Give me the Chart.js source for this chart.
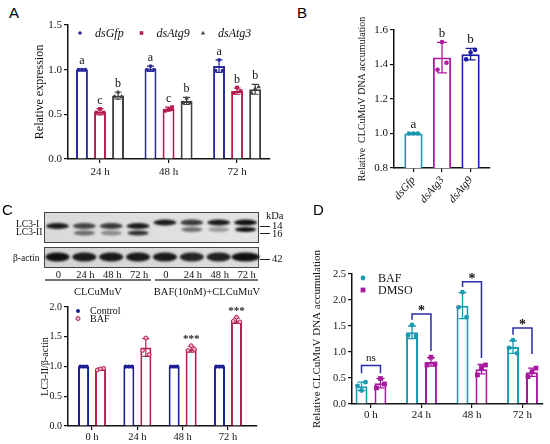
<!DOCTYPE html>
<html><head><meta charset="utf-8">
<script src="https://cdn.jsdelivr.net/npm/chart.js@4.4.1/dist/chart.umd.min.js"></script>
<style>
html,body{margin:0;padding:0;background:#fff;}
#fig{position:relative;width:550px;height:444px;overflow:hidden;background:#fff;}
canvas{position:absolute;}
.t{position:absolute;font-family:"Liberation Serif","Times New Roman",serif;color:#111;white-space:nowrap;line-height:1;}
.p{position:absolute;font-family:"Liberation Sans",Arial,sans-serif;font-size:15px;color:#000;line-height:1;}
</style></head><body>
<div id="fig">
<canvas id="blot" width="300" height="100" style="left:0;top:200px"></canvas>
<canvas id="cA" width="262" height="177" style="left:20px;top:8px"></canvas>
<canvas id="cB" width="160" height="208" style="left:340px;top:12px"></canvas>
<canvas id="cC" width="232" height="152" style="left:30px;top:292px"></canvas>
<canvas id="cD" width="250" height="208" style="left:300px;top:236px"></canvas>
<div class="p" style="left:9px;top:5px">A</div>
<div class="p" style="left:297px;top:5px">B</div>
<div class="p" style="left:2px;top:202px">C</div>
<div class="p" style="left:313px;top:202px">D</div>
</div>
<script>
const SERIF="'Liberation Serif','Times New Roman',Times,serif";
Chart.defaults.font.family=SERIF;
Chart.defaults.color='#111';
Chart.defaults.animation=false;
Chart.defaults.plugins.legend.display=false;
Chart.defaults.plugins.tooltip.enabled=false;

// ---------- Panel A data
const groupsA=['24 h','48 h','72 h'];
const gfpA=[1.00,1.01,1.04];
const gfpErrA=[0.01,0.03,0.07];
const gfpPtsA=[[1.00,1.00,1.00],[1.00,1.04,1.00],[0.99,1.11,0.99]];
const gfpLetA=['a','a','a'];
const atg9A=[0.53,0.56,0.76];
const atg9ErrA=[0.035,0.02,0.035];
const atg9PtsA=[[0.52,0.56,0.52],[0.54,0.55,0.58],[0.74,0.80,0.76]];
const atg9LetA=['c','c','b'];
const atg3A=[0.71,0.65,0.78];
const atg3ErrA=[0.04,0.04,0.055];
const atg3PtsA=[[0.70,0.75,0.70],[0.63,0.68,0.63],[0.74,0.79,0.81]];
const atg3LetA=['b','b','b'];
const yTicksA=[0,0.5,1.0,1.5];

// ---------- Panel B data
const catsB=['dsGfp','dsAtg3','dsAtg9'];
const valsB=[1.00,1.44,1.46];
const errB=[0.004,0.088,0.033];
const ptsB=[[1.0,1.0,1.0],[1.37,1.53,1.41],[1.43,1.47,1.485]];
const letB=['a','b','b'];

// ---------- Panel C blot (relative band intensities)
const laneLabels=['0','24 h','48 h','72 h','0','24 h','48 h','72 h'];
const lc3IBand=[0.95,0.75,0.8,0.95,0.95,0.8,0.95,1.0];
const lc3IIBand=[0,0.55,0.4,0.85,0,0.55,0.35,1.0];
const actinBand=[1,0.95,0.95,0.95,0.95,0.9,0.92,1.0];
const blotGroups=['CLCuMuV','BAF(10nM)+CLCuMuV'];

// ---------- Panel C chart data
const groupsC=['0 h','24 h','48 h','72 h'];
const ctrlC=[1.0,1.0,1.0,1.0];
const ctrlErrC=[0.01,0.01,0.01,0.01];
const ctrlPtsC=[[1.0,1.0,1.0],[1.0,1.0,1.0],[1.0,1.0,1.0],[1.0,1.0,1.0]];
const bafC=[0.96,1.32,1.29,1.77];
const bafErrC=[0.015,0.15,0.05,0.045];
const bafPtsC=[[0.94,0.96,0.97],[1.27,1.48,1.20],[1.27,1.35,1.29],[1.76,1.83,1.75]];
const starsC=['','','***','***'];

// ---------- Panel D data
const groupsD=['0 h','24 h','48 h','72 h'];
const bafD=[0.34,1.38,1.89,1.095];
const bafErrD=[0.08,0.12,0.25,0.12];
const bafPtsD=[[0.35,0.26,0.42],[1.32,1.52,1.31],[1.86,2.15,1.67],[1.08,1.23,0.975]];
const dmsoD=[0.40,0.81,0.67,0.61];
const dmsoErrD=[0.09,0.08,0.09,0.08];
const dmsoPtsD=[[0.31,0.49,0.385],[0.75,0.90,0.77],[0.56,0.70,0.75],[0.525,0.62,0.69]];
const sigD=['ns','*','*','*'];
const bracketTopD=[0.74,1.73,2.35,1.46];
const bracketLeftD=[0.59,1.62,2.25,1.33];
const bracketRightD=[0.59,1.02,0.885,0.96];

// ---------- helpers
function marker(ctx,style,x,y,r,stroke,fill,lw){
  ctx.beginPath();
  if(style==='rect'){ctx.rect(x-r,y-r,2*r,2*r);}
  else if(style==='triangle'){ctx.moveTo(x,y-r*1.25);ctx.lineTo(x+r*1.15,y+r*0.85);ctx.lineTo(x-r*1.15,y+r*0.85);ctx.closePath();}
  else{ctx.arc(x,y,r,0,Math.PI*2);}
  ctx.fillStyle=fill;ctx.fill();
  if(lw){ctx.lineWidth=lw;ctx.strokeStyle=stroke;ctx.stroke();}
}
function colOf(ds,i){return Array.isArray(ds.borderColor)?ds.borderColor[i]:ds.borderColor;}

const barExtras={
  id:'barExtras',
  afterDatasetsDraw(chart,args,o){
    const ctx=chart.ctx,ys=chart.scales.y;
    ctx.save();
    chart.data.datasets.forEach((ds,di)=>{
      const meta=chart.getDatasetMeta(di);
      meta.data.forEach((bar,i)=>{
        const col=colOf(ds,i);
        const m=ds.data[i].y,e=ds.err[i];
        const yt=ys.getPixelForValue(m+e),yb=ys.getPixelForValue(m-e);
        ctx.strokeStyle=col;ctx.lineWidth=o.errWidth;
        ctx.beginPath();
        ctx.moveTo(bar.x,yt);ctx.lineTo(bar.x,yb);
        ctx.moveTo(bar.x-o.cap,yt);ctx.lineTo(bar.x+o.cap,yt);
        ctx.moveTo(bar.x-o.cap,yb);ctx.lineTo(bar.x+o.cap,yb);
        ctx.stroke();
        ds.pts[i].forEach((v,k)=>{
          marker(ctx,ds.ptStyle,bar.x+(k-1)*o.jitter,ys.getPixelForValue(v),o.r,col,ds.ptFill||col,ds.ptFill?1:0);
        });
        if(ds.letters&&ds.letters[i]){
          ctx.font=o.letterFont;ctx.fillStyle='#111';ctx.textAlign='center';ctx.textBaseline='alphabetic';
          ctx.fillText(ds.letters[i],bar.x,yt-o.letterGap);
        }
        if(ds.stars&&ds.stars[i]){
          ctx.font=o.starFont;ctx.fillStyle='#222';ctx.textAlign='center';ctx.textBaseline='middle';
          ctx.fillText(ds.stars[i],bar.x,yt-o.starGap);
        }
      });
    });
    ctx.restore();
  }
};

const miniLegend={
  id:'miniLegend',
  afterDraw(chart,args,o){
    const ctx=chart.ctx,ca=chart.chartArea;
    ctx.save();
    chart.data.datasets.forEach((ds,i)=>{
      const mx=ca.left+o.x+i*o.dx,my=ca.top+o.y+i*o.dy;
      const col=colOf(ds,0);
      marker(ctx,ds.ptStyle,mx,my,o.r,col,ds.ptFill||col,ds.ptFill?1:0);
      ctx.font=o.font;ctx.fillStyle='#111';ctx.textBaseline='middle';ctx.textAlign='left';
      ctx.fillText(ds.label,mx+o.gap,my+0.5);
    });
    ctx.restore();
  }
};

const brackets={
  id:'brackets',
  afterDatasetsDraw(chart,args,o){
    const ctx=chart.ctx,ys=chart.scales.y;
    const m0=chart.getDatasetMeta(0).data,m1=chart.getDatasetMeta(1).data;
    ctx.save();
    sigD.forEach((s,i)=>{
      const x0=m0[i].x,x1=m1[i].x,yt=ys.getPixelForValue(bracketTopD[i]);
      ctx.strokeStyle=o.color;ctx.lineWidth=1.5;
      ctx.beginPath();
      ctx.moveTo(x0,ys.getPixelForValue(bracketLeftD[i]));
      ctx.lineTo(x0,yt);ctx.lineTo(x1,yt);
      ctx.lineTo(x1,ys.getPixelForValue(bracketRightD[i]));
      ctx.stroke();
      ctx.fillStyle='#111';ctx.textAlign='center';ctx.textBaseline='alphabetic';
      if(s==='ns'){ctx.font="11px "+SERIF;ctx.fillText(s,(x0+x1)/2,yt-5);}
      else{ctx.font="bold 14px "+SERIF;ctx.fillText(s,(x0+x1)/2,yt+1);}
    });
    ctx.restore();
  }
};

function gridCfg(){return{display:true,drawOnChartArea:false,drawTicks:true,tickLength:4,color:'#111',lineWidth:1.2,offset:false};}
function xAxis(labels,min,max,font,pad,rot,h){
  return{type:'linear',min:min,max:max,offset:false,
    afterBuildTicks:s=>{s.ticks=labels.map((_,i)=>({value:i}));},
    afterFit:s=>{s.height=h;},
    ticks:{autoSkip:false,font:font,padding:pad,color:'#111',maxRotation:rot,minRotation:rot,callback:v=>labels[Math.round(v)]},
    grid:gridCfg(),
    border:{display:true,color:'#111',width:1.5}};
}
function yAxis(min,max,step,font,title,tfont,tpad,w,dec){
  return{type:'linear',min:min,max:max,
    afterFit:s=>{s.width=w;},
    ticks:{stepSize:step,font:font,padding:2,color:'#111',callback:v=>Number(v).toFixed(dec)},
    grid:gridCfg(),
    border:{display:true,color:'#111',width:1.5},
    title:{display:true,text:title,font:tfont,color:'#111',padding:{top:tpad,bottom:0}}};
}
const xy=a=>a.map((v,i)=>({x:i,y:v}));

// ---------- Chart A
new Chart(document.getElementById('cA'),{
  type:'bar',
  data:{datasets:[
    {label:'dsGfp',data:xy(gfpA),err:gfpErrA,pts:gfpPtsA,letters:gfpLetA,ptStyle:'circle',borderColor:'#2a2a9c',backgroundColor:'#fff',borderWidth:2},
    {label:'dsAtg9',data:xy(atg9A),err:atg9ErrA,pts:atg9PtsA,letters:atg9LetA,ptStyle:'rect',borderColor:'#b51a50',backgroundColor:'#fff',borderWidth:2},
    {label:'dsAtg3',data:xy(atg3A),err:atg3ErrA,pts:atg3PtsA,letters:atg3LetA,ptStyle:'triangle',borderColor:'#404040',backgroundColor:'#fff',borderWidth:2}
  ]},
  options:{responsive:false,maintainAspectRatio:false,
    layout:{padding:{left:0,top:17,right:12,bottom:0}},
    datasets:{bar:{categoryPercentage:0.79,barPercentage:0.66,borderSkipped:'start'}},
    scales:{
      x:xAxis(groupsA,-0.467,2.48,{size:11},3,0,26),
      y:Object.assign(yAxis(0,1.5,0.5,{size:11},'Relative expression',{size:12},12.8,48,1),{afterBuildTicks:s=>{s.ticks=yTicksA.map(v=>({value:v}));}})
    },
    plugins:{
      barExtras:{errWidth:1.2,cap:3.5,r:1.9,jitter:3.5,letterFont:"12px "+SERIF,letterGap:5},
      miniLegend:{x:12,y:8,dx:61.5,dy:0,r:1.8,gap:15,font:"italic 12px "+SERIF}
    }
  },
  plugins:[barExtras,miniLegend]
});

// ---------- Chart B
new Chart(document.getElementById('cB'),{
  type:'bar',
  data:{datasets:[
    {label:'B',data:xy(valsB),err:errB,pts:ptsB,letters:letB,ptStyle:'circle',borderColor:['#1a98ae','#b0189e','#1c1ca6'],backgroundColor:'#fff',borderWidth:2}
  ]},
  options:{responsive:false,maintainAspectRatio:false,
    layout:{padding:{left:0,top:18,right:10,bottom:0}},
    datasets:{bar:{categoryPercentage:0.9,barPercentage:0.71,borderSkipped:'start'}},
    scales:{
      x:xAxis(catsB,-0.68,2.68,{size:11,style:'italic'},2,50,52),
      y:yAxis(0.8,1.6,0.2,{size:11},'Relative  CLCuMuV DNA accumulation',{size:10},16,54,1)
    },
    plugins:{barExtras:{errWidth:1.3,cap:5,r:2.3,jitter:4.5,letterFont:"13px "+SERIF,letterGap:5}}
  },
  plugins:[barExtras]
});

// ---------- Blot
(function(){
  const cv=document.getElementById('blot'),ctx=cv.getContext('2d');
  const fig=document.getElementById('fig');
  const L=44,R=259,n=8,w=(R-L)/n;
  const lx=i=>L+(i+0.5)*w;
  function box(y0,y1,c0,c1){
    const g=ctx.createLinearGradient(L,0,R,0);g.addColorStop(0,c0);g.addColorStop(1,c1);
    ctx.fillStyle=g;ctx.fillRect(L,y0,R-L,y1-y0);
    ctx.strokeStyle='#444';ctx.lineWidth=1;ctx.strokeRect(L+0.5,y0+0.5,R-L-1,y1-y0-1);
  }
  function band(cx,cy,bw,bh,a){
    if(a<=0)return;
    ctx.save();ctx.filter='blur(1.2px)';ctx.globalAlpha=a;ctx.fillStyle='#101010';
    ctx.beginPath();ctx.ellipse(cx,cy,bw/2,bh/2,0,0,Math.PI*2);ctx.fill();ctx.restore();
  }
  box(12,43,'#dadada','#e4e4e4');
  box(47,68,'#d4d4d4','#dedede');
  for(let i=0;i<n;i++){
    const sh=i<4?0:-3.5;
    band(lx(i),26+sh,23,6,lc3IBand[i]);
    band(lx(i),33+sh,21,5,lc3IIBand[i]);
    band(lx(i),57,i===7?28:24,9,actinBand[i]);
  }
  ctx.strokeStyle='#222';ctx.lineWidth=1;
  [[26],[33],[59]].forEach(([y])=>{ctx.beginPath();ctx.moveTo(260,y+0.5);ctx.lineTo(270,y+0.5);ctx.stroke();});
  ctx.strokeStyle='#444';ctx.lineWidth=1.5;
  ctx.beginPath();ctx.moveTo(45,80);ctx.lineTo(151,80);ctx.moveTo(155,80);ctx.lineTo(258,80);ctx.stroke();
  function txt(s,x,y,size,center){
    const d=document.createElement('div');d.className='t';d.textContent=s;
    d.style.fontSize=size+'px';d.style.left=x+'px';d.style.top=(y-size/2)+'px';
    if(center)d.style.transform='translateX(-50%)';
    fig.appendChild(d);
  }
  txt('LC3-I',16,225,9.5);
  txt('LC3-II',16,233,9.5);
  txt('β-actin',13,259,9.5);
  txt('kDa',266,216,10.5);
  txt('14',272,226,10.5);
  txt('16',272,234,10.5);
  txt('42',272,259,10.5);
  laneLabels.forEach((s,i)=>txt(s,lx(i)+1,275,10.5,true));
  txt(blotGroups[0],98,292,10.5,true);
  txt(blotGroups[1],207,292,10.5,true);
})();

// ---------- Chart C
new Chart(document.getElementById('cC'),{
  type:'bar',
  data:{datasets:[
    {label:'Control',data:xy(ctrlC),err:ctrlErrC,pts:ctrlPtsC,ptStyle:'circle',borderColor:'#1e1e98',backgroundColor:'#fff',borderWidth:2},
    {label:'BAF',data:xy(bafC),err:bafErrC,pts:bafPtsC,stars:starsC,ptStyle:'circle',ptFill:'#f2b7c8',borderColor:'#b51d55',backgroundColor:'#fff',borderWidth:2}
  ]},
  options:{responsive:false,maintainAspectRatio:false,
    layout:{padding:{left:0,top:15,right:5,bottom:0}},
    datasets:{bar:{categoryPercentage:0.75,barPercentage:0.65,borderSkipped:'start'}},
    scales:{
      x:xAxis(groupsC,-0.53,3.64,{size:10.5},1,0,18),
      y:yAxis(0,2.0,0.5,{size:10},'LC3-II/β-actin',{size:10},9,38,1)
    },
    plugins:{
      barExtras:{errWidth:1.2,cap:3.5,r:1.9,jitter:3.3,starFont:"bold 11px "+SERIF,starGap:7},
      miniLegend:{x:10,y:4,dx:0,dy:7.5,r:2,gap:12,font:"10px "+SERIF}
    }
  },
  plugins:[barExtras,miniLegend]
});

// ---------- Chart D
new Chart(document.getElementById('cD'),{
  type:'bar',
  data:{datasets:[
    {label:'BAF',data:xy(bafD),err:bafErrD,pts:bafPtsD,ptStyle:'circle',borderColor:'#1b9bb0',backgroundColor:'#fff',borderWidth:2},
    {label:'DMSO',data:xy(dmsoD),err:dmsoErrD,pts:dmsoPtsD,ptStyle:'rect',borderColor:'#a8199e',backgroundColor:'#fff',borderWidth:2}
  ]},
  options:{responsive:false,maintainAspectRatio:false,
    layout:{padding:{left:0,top:38,right:7,bottom:0}},
    datasets:{bar:{categoryPercentage:0.75,barPercentage:0.63,borderSkipped:'start'}},
    scales:{
      x:xAxis(groupsD,-0.376,3.406,{size:11},1,0,40),
      y:yAxis(0,2.5,0.5,{size:10.5},'Relative CLCuMuV DNA accumulation',{size:11},10.4,52,1)
    },
    plugins:{
      barExtras:{errWidth:1.3,cap:4,r:2.4,jitter:4},
      miniLegend:{x:11,y:4,dx:0,dy:12,r:2.4,gap:15,font:"12px "+SERIF},
      brackets:{color:'#2b2ba8'}
    }
  },
  plugins:[barExtras,miniLegend,brackets]
});
</script>
</body></html>
